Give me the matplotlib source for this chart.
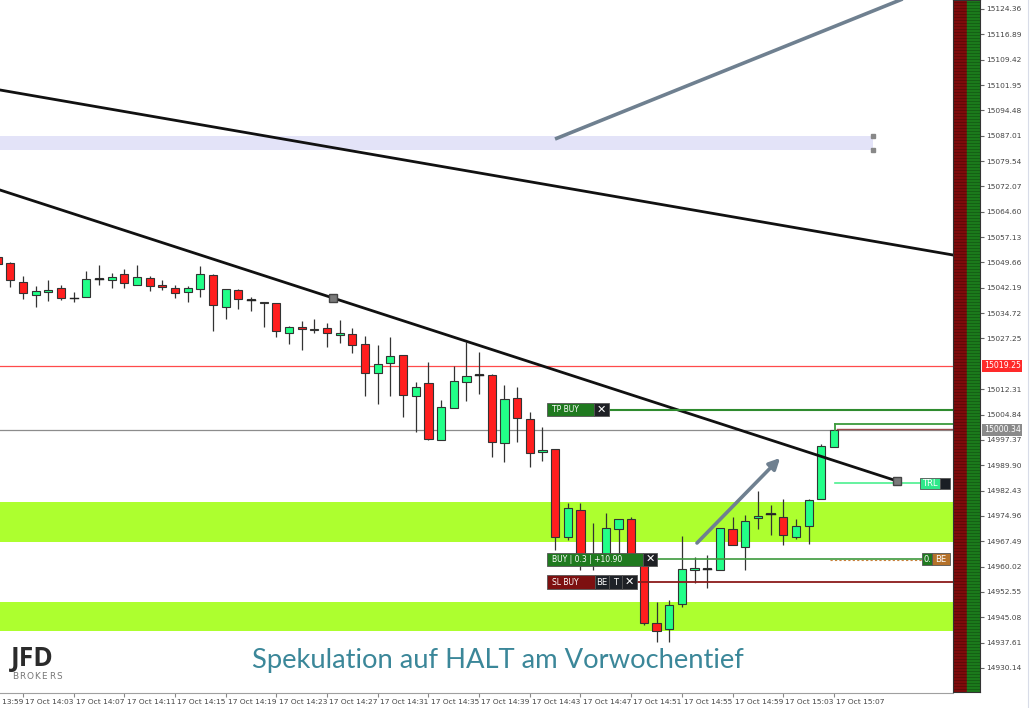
import numpy as np
import matplotlib.pyplot as plt
from matplotlib.patches import Rectangle
from matplotlib.lines import Line2D

# 1-Minuten-Kerzen, Minuten nach 14:00 (14:01 ... 15:07)
minutes = list(range(1, 68))
opens = [15051.27, 15049.41, 15043.99, 15040.07, 15041.04, 15042.22, 15039.04, 15039.39, 15044.87, 15044.49,
         15046.17, 15043.10, 15045.08, 15043.01, 15042.22, 15040.86, 15041.75, 15045.96, 15036.62, 15041.54,
         15038.68, 15037.62, 15037.80, 15028.96, 15030.72, 15029.66, 15030.25, 15028.37, 15028.66, 15025.63,
         15016.99, 15019.94, 15022.47, 15010.21, 15014.04, 14997.33, 15006.68, 15014.43, 15016.61, 15016.40,
         14996.36, 15009.62, 15003.43, 14993.80, 14994.68, 14968.83, 14976.70, 14962.56, 14962.94, 14971.01,
         14973.96, 14962.56, 14943.40, 14941.63, 14949.00, 14959.02, 14959.23, 14959.02, 14971.10, 14965.71,
         14974.35, 14975.43, 14974.55, 14968.83, 14971.99, 14979.86, 14995.36]
highs = [15052.15, 15049.79, 15045.67, 15042.72, 15044.49, 15043.01, 15041.04, 15047.14, 15048.91, 15046.46,
         15047.64, 15048.91, 15045.67, 15044.49, 15043.01, 15042.72, 15048.70, 15046.26, 15041.92, 15041.75,
         15039.39, 15038.09, 15037.80, 15030.93, 15032.49, 15032.91, 15031.73, 15032.70, 15030.25, 15027.98,
         15025.33, 15027.60, 15022.47, 15014.52, 15020.41, 15009.12, 15019.23, 15026.30, 15023.18, 15016.70,
         15013.54, 15012.86, 15005.68, 15001.31, 14994.68, 14978.85, 14978.77, 14972.87, 14975.73, 14973.96,
         14974.64, 14963.44, 14949.59, 14950.18, 14969.04, 14962.85, 14963.44, 14971.40, 14974.64, 14975.23,
         14982.39, 14978.18, 14979.94, 14974.05, 14979.94, 14996.15, 15000.34]
lows = [15048.61, 15042.43, 15038.89, 15036.53, 15038.39, 15038.59, 15037.91, 15039.39, 15043.01, 15042.22,
        15042.04, 15043.10, 15041.33, 15041.54, 15039.27, 15038.09, 15039.57, 15029.55, 15032.99, 15035.85,
        15035.35, 15030.55, 15027.60, 15025.54, 15023.86, 15028.78, 15024.83, 15025.83, 15022.89, 15010.39,
        15007.94, 15010.39, 15004.20, 14999.78, 14997.33, 14997.33, 15006.68, 15008.83, 15010.89, 14992.41,
        14990.76, 14996.83, 14989.46, 14991.14, 14964.91, 14967.86, 14959.02, 14959.02, 14962.56, 14962.94,
        14961.97, 14942.81, 14937.80, 14937.80, 14948.11, 14955.19, 14953.71, 14959.02, 14966.39, 14959.02,
        14971.10, 14969.33, 14966.39, 14968.07, 14966.68, 14979.86, 14995.36]
closes = [15049.20, 15044.49, 15040.57, 15041.25, 15041.54, 15039.09, 15039.04, 15044.78, 15044.87, 15045.28,
          15043.51, 15045.28, 15042.72, 15042.51, 15040.57, 15042.22, 15046.17, 15037.12, 15041.92, 15038.89,
          15038.68, 15038.09, 15029.55, 15030.72, 15030.05, 15030.05, 15028.96, 15028.78, 15025.33, 15017.17,
          15019.73, 15022.09, 15010.51, 15012.86, 14997.63, 15006.97, 15014.72, 15016.20, 15016.61, 14996.74,
          15009.33, 15003.73, 14993.41, 14994.39, 14968.75, 14977.38, 14962.85, 14962.56, 14971.49, 14973.96,
          14962.85, 14943.49, 14941.04, 14948.70, 14959.31, 14959.61, 14959.23, 14971.40, 14966.39, 14973.55,
          14975.02, 14975.43, 14969.33, 14972.08, 14979.65, 14995.56, 15000.34]

# Preisachse
ytick_vals = [14930.14, 14937.61, 14945.08, 14952.55, 14960.02, 14967.49, 14974.96, 14982.43, 14989.90,
              14997.37, 15004.84, 15012.31, 15027.25, 15034.72, 15042.19, 15049.66, 15057.13, 15064.60,
              15072.07, 15079.54, 15087.01, 15094.48, 15101.95, 15109.42, 15116.89, 15124.36]
ytick_labels = ['14930.14', '14937.61', '14945.08', '14952.55', '14960.02', '14967.49', '14974.96', '14982.43',
                '14989.90', '14997.37', '15004.84', '15012.31', '15027.25', '15034.72', '15042.19', '15049.66',
                '15057.13', '15064.60', '15072.07', '15079.54', '15087.01', '15094.48', '15101.95', '15109.42',
                '15116.89', '15124.36']
# Zeitachse
xtick_minutes = [-1, 3, 7, 11, 15, 19, 23, 27, 31, 35, 39, 43, 47, 51, 55, 59, 63, 67]
xtick_labels = ['17 Oct 13:59', '17 Oct 14:03', '17 Oct 14:07', '17 Oct 14:11', '17 Oct 14:15', '17 Oct 14:19',
                '17 Oct 14:23', '17 Oct 14:27', '17 Oct 14:31', '17 Oct 14:35', '17 Oct 14:39', '17 Oct 14:43',
                '17 Oct 14:47', '17 Oct 14:51', '17 Oct 14:55', '17 Oct 14:59', '17 Oct 15:03', '17 Oct 15:07']

# Zonen und Level
support_zones = [(14967.27, 14979.06), (14941.04, 14949.59)]
resist_zone = (15082.72, 15086.98)
bid_level = 15019.25
last_price = 15000.34
tp_level = 15006.18
target2_level = 15002.05
trail_level = 14984.66
entry_level = 14962.26
sl_level = 14955.43
# Trendlinien (Minute, Preis)
trend1 = ([1.185, 76.40], [15100.49, 15051.86])
trend2 = ([1.185, 27.47, 71.98], [15071.01, 15039.18, 14985.25])
up_line = ([44.99, 74.19], [15086.04, 15129.96])
arrow_pts = ([56.04, 62.91], [14966.39, 14992.62])

W, H = 1030, 708
fig = plt.figure(figsize=(W / 100, H / 100), dpi=100)
ax = fig.add_axes([0, 15 / H, 953 / W, 693 / H])
ax.set_xlim(1.185, 76.40)
ax.set_ylim(14922.77, 15127.01)
PPM = 12.67      # pixel je minute
PPP = 0.29472    # preis je pixel


def mx(px):
    return 1.185 + px / PPM


for lo, hi in support_zones:
    ax.axhspan(lo, hi, color='#adff2f', zorder=0, lw=0)
ax.fill_between([mx(0), mx(873)], resist_zone[0], resist_zone[1], color='#e3e3f8', zorder=0, lw=0)
ax.plot([mx(873)] * 2, list(resist_zone), 's', color='#888', ms=2.5, zorder=1)

ax.axhline(bid_level, color='#ff4a4a', lw=0.9, zorder=1)
ax.axhline(last_price, color='#8c8c8c', lw=0.9, zorder=1)

# Kerzen
o = np.array(opens); c = np.array(closes)
up = c >= o
ax.vlines(minutes, lows, highs, color='#333', lw=0.9, zorder=3)
body_lo = np.minimum(o, c)
body_h = np.maximum(np.abs(c - o), 0.25)
cols = np.where(up, '#22ff88', '#ff1e1e')
ax.bar(minutes, body_h, bottom=body_lo, width=0.64, color=cols, edgecolor='#333', linewidth=0.8, zorder=4)
for m, oo, cc in zip(minutes, opens, closes):
    if oo == cc:
        ax.plot([m - 0.32, m + 0.32], [oo, oo], color='#222', lw=1.0, zorder=5)

# Trendlinien
ax.plot(*trend1, color='#111', lw=2.0, zorder=6)
ax.plot(*trend2, color='#111', lw=2.0, zorder=6)
ax.plot(trend2[0][1:], trend2[1][1:], 's', color='#7a7a7a', mec='#444', ms=5.5, zorder=7)
ax.plot(*up_line, color='#6f8090', lw=2.6, zorder=6, solid_capstyle='butt')
ax.annotate('', xy=(arrow_pts[0][1], arrow_pts[1][1]), xytext=(arrow_pts[0][0], arrow_pts[1][0]),
            arrowprops=dict(arrowstyle='-|>', color='#6f8090', lw=2.6, mutation_scale=16), zorder=6)

# Handelslinien
ax.plot([mx(609), mx(953)], [tp_level] * 2, color='#2e8b2e', lw=1.5, zorder=6)
ax.plot([mx(835), mx(953)], [target2_level] * 2, color='#3c9a3c', lw=1.3, zorder=6)
ax.plot([mx(835)] * 2, [target2_level, last_price], color='#3c9a3c', lw=1.3, zorder=6)
ax.plot([mx(837), mx(953)], [last_price + 0.3] * 2, color='#9b4a4a', lw=1.0, zorder=6)
ax.plot([mx(835), mx(920)], [trail_level] * 2, color='#4cf08f', lw=1.2, zorder=6)
ax.plot([mx(657), mx(922)], [entry_level] * 2, color='#3d9a3d', lw=1.2, zorder=6)
ax.plot([mx(830), mx(922)], [entry_level - 0.3] * 2, color='#c8803a', lw=0.8, ls=(0, (2, 2)), zorder=6)
ax.plot([mx(637), mx(953)], [sl_level] * 2, color='#8b1a1a', lw=1.3, zorder=6)


def box(x0, x1, level, fc, text='', ha='left', tc='white', h=13, fs=5.5):
    ax.add_patch(Rectangle((mx(x0), level - h / 2 * PPP), (x1 - x0) / PPM, h * PPP,
                           fc=fc, ec='#555', lw=0.6, zorder=8, clip_on=False))
    if text:
        tx = mx(x0 + 5) if ha == 'left' else mx((x0 + x1) / 2)
        ax.text(tx, level, text, color=tc, fontsize=fs, ha=ha, va='center', zorder=9)


def xbtn(x0, x1, level, h=13):
    box(x0, x1, level, '#1e2024', h=h)
    ax.text(mx((x0 + x1) / 2), level, '\u2715', color='white', fontsize=8, fontweight='bold',
            ha='center', va='center', zorder=9)


box(547, 594, tp_level, '#1f7a1f', 'TP BUY')
xbtn(594, 609, tp_level)
box(547, 643, entry_level, '#1f7a1f', 'BUY | 0.3 | +10.90')
xbtn(643, 657, entry_level)
box(547, 595, sl_level, '#7d1010', 'SL BUY', h=14)
box(595, 609, sl_level, '#1e2228', 'BE', ha='center', h=14, fs=6)
box(609, 622, sl_level, '#1e2228', 'T', ha='center', h=14, fs=6)
xbtn(622, 637, sl_level, h=14)
box(920, 940, trail_level, '#2ee88a', 'TRL', ha='center', h=11, fs=6)
box(940, 950, trail_level, '#1a1e24', h=11)
box(922, 932, entry_level, '#1f7a1f', '0.', ha='center', h=12, fs=6)
box(932, 950, entry_level, '#b5722a', 'BE', ha='center', h=12, fs=6)

# Achsen
for s in ['top', 'left', 'right']:
    ax.spines[s].set_visible(False)
ax.spines['bottom'].set_color('#a0a0a0')
ax.set_yticks([])
ax.set_xticks(xtick_minutes[1:])
ax.set_xticklabels([])
ax.tick_params(axis='x', direction='out', length=3, color='#888')
for m, lab in zip(xtick_minutes, xtick_labels):
    ax.text(m + 0.18, -0.008, lab, transform=ax.get_xaxis_transform(), ha='left', va='top',
            fontsize=5.4, color='#444', clip_on=False)

# Markttiefe-Balken rechts
ax2 = fig.add_axes([953 / W, 16 / H, 27 / W, 692 / H])
ax2.set_xlim(0, 1)
ax2.set_ylim(14922.77 + PPP, 15127.01)
ax2.axvspan(0, 0.52, color='#7e0b0b')
ax2.axvspan(0.52, 1, color='#1b7a1b')
ax2.hlines(np.arange(14923.0, 15127.0, 3 * PPP), 0, 1, color='black', alpha=0.3, lw=0.5)
ax2.set_xticks([])
ax2.yaxis.tick_right()
ax2.set_yticks(ytick_vals)
ax2.set_yticklabels(ytick_labels)
ax2.tick_params(axis='y', length=3, pad=1.5, labelsize=5.4, labelcolor='#444', color='#666')
for s in ax2.spines.values():
    s.set_color('#333')
    s.set_linewidth(0.8)
ytr = ax2.get_yaxis_transform()
ax2.text(1.14, bid_level, '15019.25', transform=ytr, fontsize=5.6, color='white', va='center', ha='left',
         bbox=dict(boxstyle='square,pad=0.18', fc='#ff2a2a', ec='none'), clip_on=False)
ax2.text(1.14, last_price, '15000.34', transform=ytr, fontsize=5.6, color='white', va='center', ha='left',
         bbox=dict(boxstyle='square,pad=0.18', fc='#8a8a8a', ec='none'), clip_on=False)
fig.add_artist(Line2D([1028 / W] * 2, [0, 1], color='#d8dce8', lw=0.8))

# Titel und Logo
fig.text(498 / W, 1 - 668 / H, 'Spekulation auf HALT am Vorwochentief', fontsize=19.7, family='Lato',
         color='#3b8799', ha='center', va='baseline')
fig.text(11 / W, 1 - 666 / H, 'JFD', fontsize=19, fontweight='bold', family='Open Sans',
         color='#2b2b2b', va='baseline')
for i, ch in enumerate('BROKERS'):
    fig.text((12 + i * 7.4) / W, 1 - 679 / H, ch, fontsize=6.4, color='#777', va='baseline')

fig.savefig('out.png', dpi=100)
